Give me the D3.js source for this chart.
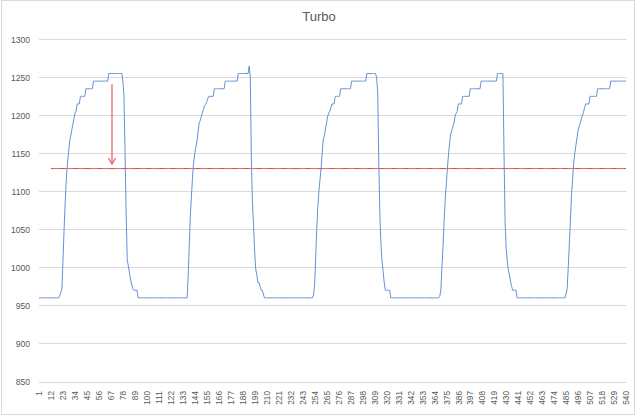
<!DOCTYPE html>
<html>
<head>
<meta charset="utf-8">
<script src="https://cdn.jsdelivr.net/npm/d3@7"></script>
<style>
  html, body { margin: 0; padding: 0; background: #fff; }
  svg { display: block; }
  text { font-family: "Liberation Sans", Arial, sans-serif; fill: #595959; }
</style>
</head>
<body>
<svg id="chart" width="640" height="418"></svg>
<script>
// ---- Data ----
const title = "Turbo";
const turbo = [
  960,960,960,960,960,960,960,960,960,960,
  960,960,960,960,960,960,960,960,960,963,
  967,972,1010,1050,1085,1115,1135,1150,1165,1172,
  1180,1188,1195,1203,1205,1215,1215,1215,1225,1225,
  1225,1225,1225,1235,1235,1235,1235,1235,1235,1235,
  1245,1245,1245,1245,1245,1245,1245,1245,1245,1245,
  1245,1245,1245,1245,1255,1255,1255,1255,1255,1255,
  1255,1255,1255,1255,1255,1255,1255,1245,1225,1150,
  1070,1010,1002,993,985,978,972,970,970,970,
  970,960,960,960,960,960,960,960,960,960,
  960,960,960,960,960,960,960,960,960,960,
  960,960,960,960,960,960,960,960,960,960,
  960,960,960,960,960,960,960,960,960,960,
  960,960,960,960,960,960,960,990,1030,1070,
  1095,1120,1138,1150,1158,1165,1178,1190,1193,1198,
  1204,1208,1213,1214,1218,1222,1225,1225,1225,1225,
  1225,1235,1235,1235,1235,1235,1235,1235,1235,1235,
  1235,1245,1245,1245,1245,1245,1245,1245,1245,1245,
  1245,1245,1245,1255,1255,1255,1255,1255,1255,1255,
  1255,1255,1255,1265,1250,1140,1085,1055,1020,998,
  990,980,980,975,970,970,965,960,960,960,
  960,960,960,960,960,960,960,960,960,960,
  960,960,960,960,960,960,960,960,960,960,
  960,960,960,960,960,960,960,960,960,960,
  960,960,960,960,960,960,960,960,960,960,
  960,960,963,975,1010,1050,1080,1100,1115,1130,
  1150,1168,1173,1182,1190,1198,1203,1205,1210,1215,
  1215,1215,1225,1225,1225,1225,1225,1235,1235,1235,
  1235,1235,1235,1235,1235,1235,1235,1245,1245,1245,
  1245,1245,1245,1245,1245,1245,1245,1245,1245,1245,
  1245,1255,1255,1255,1255,1255,1255,1255,1255,1255,
  1250,1230,1140,1070,1030,1008,995,980,970,970,
  970,970,970,960,960,960,960,960,960,960,
  960,960,960,960,960,960,960,960,960,960,
  960,960,960,960,960,960,960,960,960,960,
  960,960,960,960,960,960,960,960,960,960,
  960,960,960,960,960,960,960,960,962,970,
  1000,1028,1060,1090,1110,1130,1148,1163,1175,1180,
  1185,1190,1198,1203,1205,1215,1215,1215,1215,1225,
  1225,1225,1225,1225,1225,1225,1235,1235,1235,1235,
  1235,1235,1235,1235,1235,1235,1245,1245,1245,1245,
  1245,1245,1245,1245,1245,1245,1245,1245,1245,1245,
  1245,1255,1255,1255,1255,1255,1255,1150,1060,1025,
  1008,997,990,982,975,970,970,970,970,960,
  960,960,960,960,960,960,960,960,960,960,
  960,960,960,960,960,960,960,960,960,960,
  960,960,960,960,960,960,960,960,960,960,
  960,960,960,960,960,960,960,960,960,960,
  960,960,960,960,965,972,1000,1030,1063,1095,
  1115,1138,1150,1160,1170,1180,1185,1190,1195,1200,
  1204,1210,1215,1215,1215,1215,1225,1225,1225,1225,
  1225,1225,1225,1235,1235,1235,1235,1235,1235,1235,
  1235,1235,1235,1235,1235,1245,1245,1245,1245,1245,
  1245,1245,1245,1245,1245,1245,1245,1245,1245,1245
];
const categories = turbo.map((d, i) => i + 1);          // 1 .. 540
const tickLabels = categories.filter(c => (c - 1) % 11 === 0); // 1, 12, 23, ... 540
const yTicks = [850, 900, 950, 1000, 1050, 1100, 1150, 1200, 1250, 1300];
const limitValue = 1130;     // red horizontal line
const limitStart = 12;       // category where the red line starts
const arrowCategory = 68;    // annotation arrow position
const arrowFrom = 1241;
const arrowTo = 1136;

// ---- Layout ----
const svg = d3.select("#chart");
const W = 640, H = 418;
const plot = { left: 38.5, right: 626.5, top: 39.3, bottom: 381.5 };

svg.append("rect").attr("x", 0).attr("y", 0).attr("width", W).attr("height", H).attr("fill", "#fff");
svg.append("rect")
  .attr("x", 1.5).attr("y", 0.5).attr("width", 633).attr("height", 414)
  .attr("fill", "none").attr("stroke", "#D9D9D9").attr("stroke-width", 1);

const x = d3.scalePoint().domain(categories).range([plot.left, plot.right]).padding(0.5);
const y = d3.scaleLinear().domain([850, 1300]).range([plot.bottom, plot.top]);

// gridlines
svg.append("g").selectAll("line").data(yTicks).join("line")
  .attr("x1", plot.left + 0.5).attr("x2", plot.right)
  .attr("y1", d => Math.round(y(d)) + 0.5).attr("y2", d => Math.round(y(d)) + 0.5)
  .attr("stroke", "#D9D9D9").attr("stroke-width", 1);

// y axis labels
const yAxis = d3.axisLeft(y).tickValues(yTicks).tickFormat(d3.format("d")).tickSize(0).tickPadding(0);
const gy = svg.append("g").attr("transform", `translate(30,0)`).call(yAxis);
gy.select(".domain").remove();
gy.selectAll("text")
  .attr("x", 0).attr("dy", "0.35em")
  .style("font-family", '"Liberation Sans", Arial, sans-serif')
  .style("font-size", "8.6px").attr("fill", "#595959");

// x axis labels (rotated)
const xAxis = d3.axisBottom(x).tickValues(tickLabels).tickSize(0).tickPadding(0);
const gx = svg.append("g").attr("transform", `translate(0,${plot.bottom})`).call(xAxis);
gx.select(".domain").remove();
gx.selectAll("text")
  .attr("transform", "rotate(-90)")
  .attr("text-anchor", "end")
  .attr("x", -9.5).attr("y", 0).attr("dy", "0.33em")
  .style("font-family", '"Liberation Sans", Arial, sans-serif')
  .style("font-size", "8.3px").attr("fill", "#595959");

// red limit line
const limitData = categories.filter(c => c >= limitStart).map(c => ({ c, v: limitValue }));
svg.append("path")
  .datum(limitData)
  .attr("fill", "none").attr("stroke", "#CC4040").attr("stroke-width", 1)
  .attr("d", d3.line().x(d => x(d.c)).y(d => y(d.v)));

// turbo series
svg.append("path")
  .datum(turbo.map((v, i) => ({ c: categories[i], v })))
  .attr("fill", "none").attr("stroke", "#6392D2").attr("stroke-width", 1)
  .attr("stroke-linejoin", "round")
  .attr("d", d3.line().x(d => x(d.c)).y(d => y(d.v)));

// annotation arrow
const ax = x(arrowCategory), ay1 = y(arrowFrom), ay2 = y(arrowTo);
svg.append("line").attr("x1", ax).attr("x2", ax).attr("y1", ay1).attr("y2", ay2)
  .attr("stroke", "#F0585C").attr("stroke-width", 1.2);
svg.append("path")
  .attr("d", `M${ax - 3.5},${ay2 - 6} L${ax},${ay2} L${ax + 3.5},${ay2 - 6}`)
  .attr("fill", "none").attr("stroke", "#F0585C").attr("stroke-width", 1.2);

// title
svg.append("text").attr("x", 319).attr("y", 21)
  .attr("text-anchor", "middle")
  .style("font-size", "13px").attr("fill", "#595959")
  .text(title);
</script>
</body>
</html>
